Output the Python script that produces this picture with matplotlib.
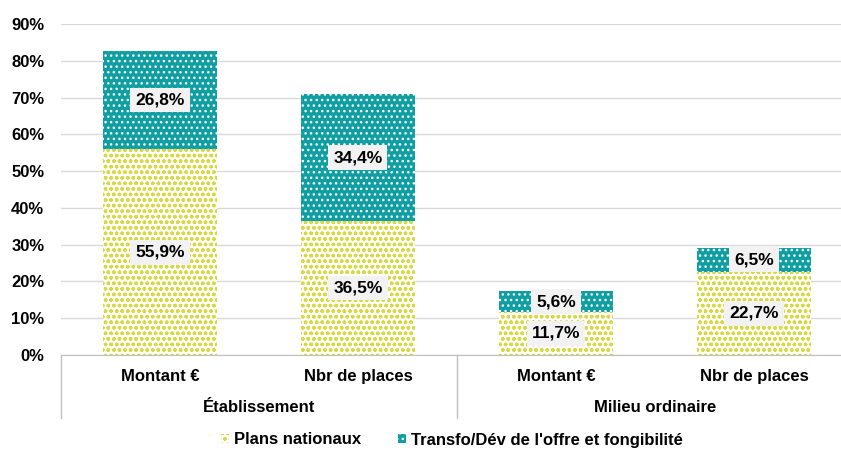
import numpy as np
import matplotlib.pyplot as plt
from matplotlib.patches import Patch

plt.rcParams['font.family'] = ['Liberation Sans', 'DejaVu Sans']
plt.rcParams['hatch.linewidth'] = 1.0

categories = ["Montant €", "Nbr de places", "Montant €", "Nbr de places"]
groups = ["Établissement", "Milieu ordinaire"]
plans = [55.9, 36.5, 11.7, 22.7]
transfo = [26.8, 34.4, 5.6, 6.5]
yticks = [0, 10, 20, 30, 40, 50, 60, 70, 80, 90]

yellow = '#d8d840'
teal = '#0f9fa2'

fig = plt.figure(figsize=(8.41, 4.53), dpi=100)
ax = fig.add_axes([61 / 841, 1 - 355 / 453, 1 - 61 / 841, (355 - 24) / 453])

x = np.arange(len(categories))
w = 0.576
ax.bar(x, plans, w, color='white', edgecolor=yellow, linewidth=0, hatch='ooo', zorder=2)
ax.bar(x, transfo, w, bottom=plans, color=teal, edgecolor='white', linewidth=0, hatch='...', zorder=2)

box = dict(facecolor='#f2f2f2', edgecolor='none', pad=3.5)
for i in range(len(x)):
    ax.text(x[i], plans[i] / 2, f"{plans[i]:.1f}%".replace('.', ','), ha='center', va='center',
            fontsize=12.5, fontweight='bold', bbox=box, zorder=3)
    ax.text(x[i], plans[i] + transfo[i] / 2, f"{transfo[i]:.1f}%".replace('.', ','), ha='center',
            va='center', fontsize=12.5, fontweight='bold', bbox=box, zorder=3)

ax.set_xlim(-0.5, 3.44)
ax.set_ylim(0, 90)
ax.set_yticks(yticks)
ax.set_yticklabels([f"{v}%" for v in yticks], fontsize=12, fontweight='bold')
ax.yaxis.grid(True, color='#d9d9d9', linewidth=1, zorder=0)
ax.set_axisbelow(True)
for s in ['top', 'right', 'left']:
    ax.spines[s].set_visible(False)
ax.spines['bottom'].set_color('#bfbfbf')
ax.tick_params(axis='y', length=0, pad=12)
ax.tick_params(axis='x', length=0, pad=10)
ax.set_xticks(x)
ax.set_xticklabels(categories, fontsize=12, fontweight='bold')

trans = ax.get_xaxis_transform()
for gx in [-0.5, 1.5]:
    ax.plot([gx, gx], [0, -0.19], transform=trans, color='#bfbfbf', linewidth=1, clip_on=False)
for gi, g in enumerate(groups):
    ax.text(gi * 2 + 0.5, -0.16, g, transform=trans, ha='center', va='center', fontsize=12,
            fontweight='bold')

handles = [Patch(facecolor='white', edgecolor=yellow, linewidth=0, hatch='ooo'),
           Patch(facecolor=teal, edgecolor='white', linewidth=0, hatch='...')]
fig.legend(handles, ["Plans nationaux", "Transfo/Dév de l'offre et fongibilité"], loc='center',
           bbox_to_anchor=(452 / 841, 1 - 440 / 453), ncol=2, frameon=False,
           prop={'size': 12, 'weight': 'bold'},
           handlelength=0.5, handleheight=0.5, columnspacing=2.2, handletextpad=0.3)

fig.savefig('out.png', dpi=100)
